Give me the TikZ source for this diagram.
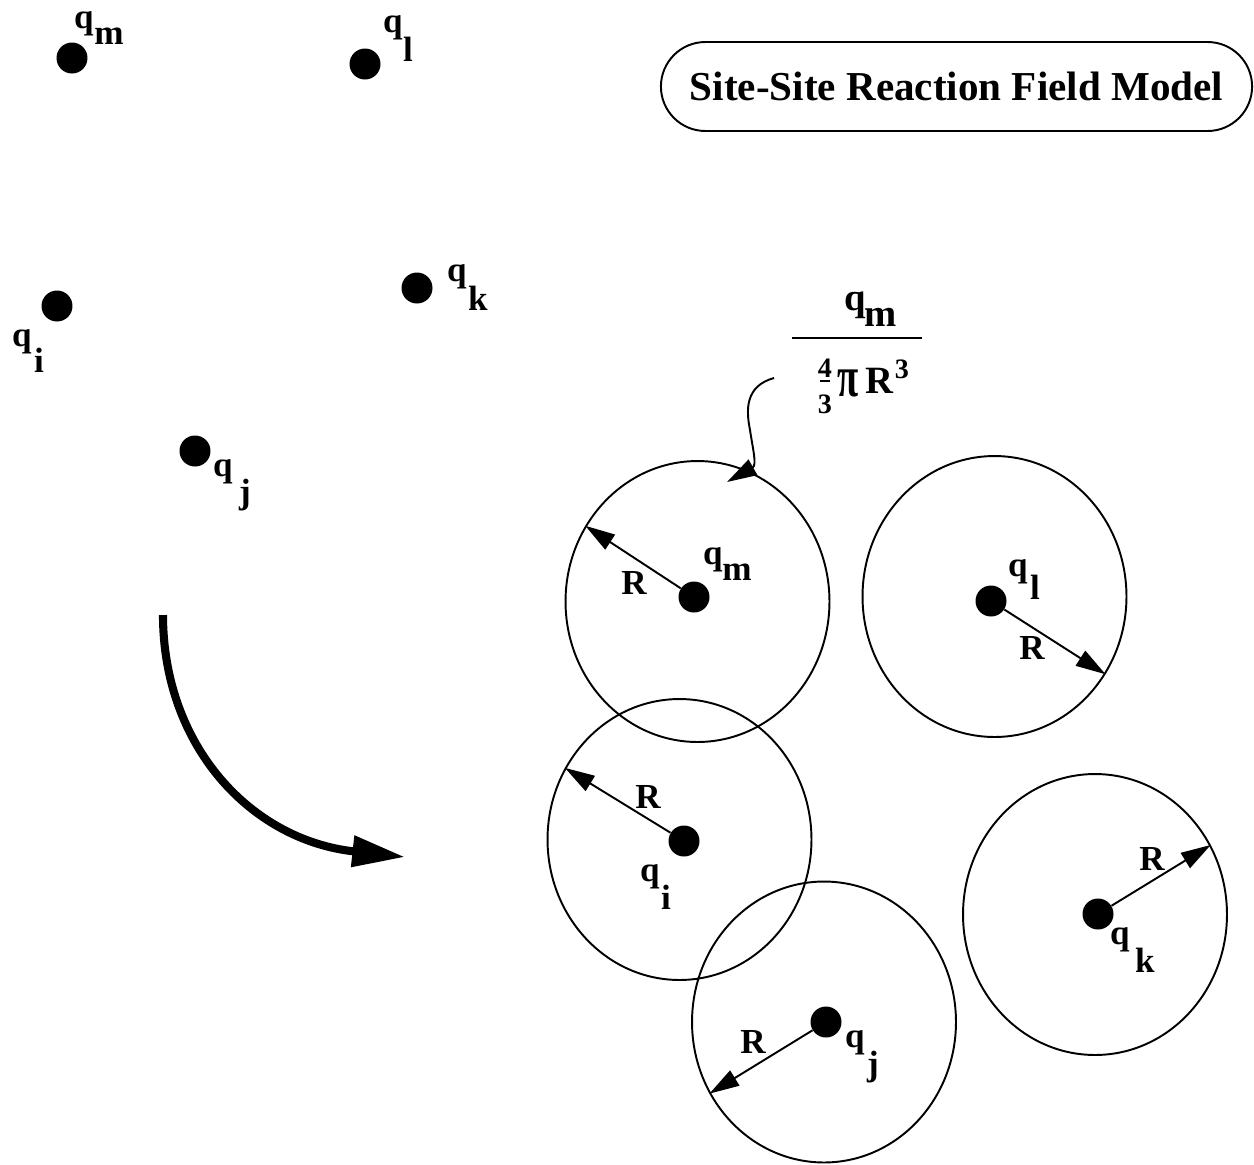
\documentclass[tikz,border=0pt]{standalone}
\usepackage{fontspec}
\setmainfont{Liberation Serif}
\usepackage{graphicx}
\usetikzlibrary{shapes.geometric, shapes.misc, arrows.meta, positioning}
\tikzset{
  site/.style={circle, fill=black, inner sep=0pt, minimum size=0.62cm},
  sphere/.style={ellipse, draw, line width=1.1pt, inner sep=0pt,
                 minimum width=5.28cm, minimum height=5.62cm},
  lab/.style={inner sep=0pt, font=\fontsize{20}{22}\selectfont\bfseries},
  fraclab/.style={inner sep=0pt, font=\fontsize{22}{24}\selectfont\bfseries},
  digit/.style={inner sep=0pt, font=\fontsize{16}{18}\selectfont\bfseries},
  titlebox/.style={rounded rectangle, draw, line width=1.1pt,
                   minimum width=12.06cm, minimum height=1.78cm,
                   font=\fontsize{23.4}{26}\selectfont\bfseries},
  rarrow/.style={-{Triangle[length=17pt, width=10pt]}, line width=1.1pt},
  bigarrow/.style={-{Triangle[length=30pt, width=17pt]}, line width=4.6pt},
}
\begin{document}
\begin{tikzpicture}[x=0.02cm, y=-0.02cm]
  \useasboundingbox (0,0) rectangle (1254,1164);

  % title
  \node[titlebox] (title) at (956.5,86.5) {Site-Site Reaction Field Model};

  % charges before
  \node[site] (am) at (72,58) {};
  \node[site] (al) at (365,64) {};
  \node[site] (ai) at (57,306) {};
  \node[site] (ak) at (417,288) {};
  \node[site] (aj) at (195,451) {};
  \node[lab] (qam) at (84,24) {q};   \node[lab] (qams) at (109,36) {m};
  \node[lab] (qal) at (393,28) {q};  \node[lab] (qals) at (408,49) {l};
  \node[lab] (qai) at (22,342) {q};  \node[lab] (qais) at (39,360) {i};
  \node[lab] (qak) at (457,277) {q}; \node[lab] (qaks) at (478,298) {k};
  \node[lab] (qaj) at (223,472) {q}; \node[lab] (qajs) at (245,495) {j};

  % big arrow
  \coordinate (bstart) at (163,615);
  \coordinate (bend) at (405,857);
  \draw[bigarrow] (bstart) .. controls (163,745) and (250,840) .. (bend);

  % spheres
  \node[sphere] (sm) at (697.5,601.5) {};
  \node[sphere] (sl) at (994.5,596.5) {};
  \node[sphere] (si) at (679.5,839.5) {};
  \node[sphere] (sj) at (824,1022) {};
  \node[sphere] (sk) at (1095,914.5) {};
  \node[site] (bm) at (694,597) {};
  \node[site] (bl) at (991,601) {};
  \node[site] (bi) at (684,841) {};
  \node[site] (bj) at (826,1022) {};
  \node[site] (bk) at (1098,914) {};
  \node[lab] (qbm) at (713,560) {q};  \node[lab] (qbms) at (737,572) {m};
  \node[lab] (qbl) at (1018,572) {q}; \node[lab] (qbls) at (1035,587) {l};
  \node[lab] (qbi) at (650,877) {q};  \node[lab] (qbis) at (666,897) {i};
  \node[lab] (qbj) at (855,1043) {q}; \node[lab] (qbjs) at (873,1067) {j};
  \node[lab] (qbk) at (1120,940) {q}; \node[lab] (qbks) at (1145,960) {k};

  % radii
  \draw[rarrow] (bm) -- (sm.146.5);
  \draw[rarrow] (bl) -- (sl.325.5);
  \draw[rarrow] (bi) -- (si.148);
  \draw[rarrow] (bj) -- (sj.212);
  \draw[rarrow] (bk) -- (sk.31.6);
  \node[lab] (rm) at (634,583) {R};
  \node[lab] (rl) at (1032,648) {R};
  \node[lab] (ri) at (648,797) {R};
  \node[lab] (rj) at (753,1042) {R};
  \node[lab] (rk) at (1152,859) {R};

  % charge density
  \node[fraclab] (fq) at (855,305) {q};
  \node[fraclab] (fqs) at (881,317) {m};
  \draw[line width=1.2pt] (792,338) -- (922,338);
  \node[digit] (f4) at (825,368) {4};
  \draw[line width=0.8pt] (820,381) -- (830,381);
  \node[digit] (f3) at (825,404) {3};
  \node[fraclab] (fpi) at (848,383) {\scalebox{1}[1.5]{π}};
  \node[fraclab] (fr) at (879,381) {R};
  \node[digit] (fe) at (902,369) {3};
  \coordinate (fstart) at (774,378);
  \coordinate (wend) at (727,482);
  \draw[rarrow] (fstart) .. controls (745,386) and (746,410) .. (750,430)
    .. controls (753,450) and (757,465) .. (wend);
\end{tikzpicture}
\end{document}
